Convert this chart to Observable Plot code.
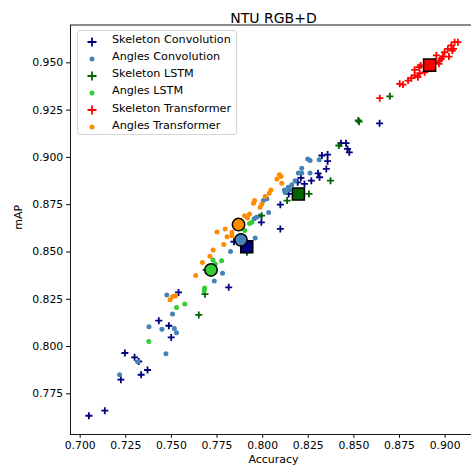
<!DOCTYPE html>
<html><head><meta charset="utf-8">
<script src="https://cdn.jsdelivr.net/npm/d3@7"></script>
<script src="https://cdn.jsdelivr.net/npm/@observablehq/plot@0.6"></script>
<style>
html,body{margin:0;padding:0;background:#fff;overflow:hidden;}
#wrap{position:relative;width:471px;height:470px;overflow:hidden;font-family:"DejaVu Sans",sans-serif;}
#legend{position:absolute;left:77px;top:30px;width:160px;height:105px;box-sizing:border-box;border:1px solid #d5d5d5;border-radius:3px;background:rgba(255,255,255,0.85);}
.lrow{position:absolute;left:0;height:17px;width:158px;}
.lrow svg{position:absolute;left:8px;top:3px;}
.lrow span{position:absolute;left:34px;top:0.5px;font-size:11.2px;line-height:14px;color:#000;white-space:nowrap;}
</style>
</head><body><div id="wrap"><div id="chart"></div><div id="legend"></div></div>
<script>
const seriesNames = ["Skeleton Convolution","Angles Convolution","Skeleton LSTM","Angles LSTM","Skeleton Transformer","Angles Transformer"];
const seriesColors = ["#000080","#4682b4","#006400","#32cd32","#ff0000","#ff8c00"];
const seriesKind = ["plus","dot","plus","dot","plus","dot"];

const skelConvAcc = [0.7048,0.7135,0.7223,0.7245,0.7298,0.7321,0.7334,0.7369,0.7431,0.7486,0.7499,0.7539,0.7691,0.7814,0.7843,0.7993,0.8097,0.8097,0.8143,0.8192,0.8210,0.8229,0.8267,0.8304,0.8312,0.8349,0.8325,0.8356,0.8356,0.8429,0.8457,0.8465,0.8475,0.8641];
const skelConvMap = [0.7634,0.7661,0.7825,0.7966,0.7943,0.7921,0.7851,0.7876,0.8137,0.8110,0.8048,0.8286,0.8405,0.8313,0.8554,0.8657,0.8622,0.8750,0.8807,0.8868,0.8892,0.8860,0.8877,0.8916,0.8895,0.8939,0.9010,0.9015,0.8980,0.9075,0.9075,0.9045,0.9027,0.9180];

const angConvAcc = [0.7216,0.7316,0.7377,0.7448,0.7470,0.7475,0.7506,0.7516,0.7528,0.7735,0.7780,0.7824,0.7959,0.7954,0.7967,0.7986,0.8004,0.8023,0.8033,0.8119,0.8123,0.8146,0.8141,0.8160,0.8178,0.8196,0.8214,0.8214,0.8260,0.8247,0.8260,0.8310];
const angConvMap = [0.7851,0.7920,0.8105,0.8091,0.7962,0.8273,0.8172,0.8096,0.8073,0.8346,0.8388,0.8503,0.8574,0.8675,0.8683,0.8692,0.8772,0.8781,0.8709,0.8828,0.8815,0.8828,0.8842,0.8855,0.8877,0.8918,0.8918,0.8942,0.8918,0.8992,0.8983,0.8988];

const skelLstmAcc = [0.7650,0.7684,0.7914,0.7995,0.8134,0.8254,0.8372,0.8418,0.8524,0.8529,0.8697];
const skelLstmMap = [0.8167,0.8277,0.8498,0.8692,0.8772,0.8807,0.8877,0.9063,0.9195,0.9189,0.9323];

const angLstmAcc = [0.7376,0.7528,0.7573,0.7682,0.7680,0.7728,0.7740,0.7775,0.7902,0.7928,0.7941];
const angLstmMap = [0.8027,0.8207,0.8225,0.8309,0.8295,0.8458,0.8437,0.8453,0.8613,0.8651,0.8657];

const skelTrAcc = [0.8642,0.8751,0.8769,0.8797,0.8815,0.8833,0.8851,0.8833,0.8861,0.8857,0.8888,0.8897,0.8943,0.8952,0.8970,0.8988,0.8997,0.9015,0.9021,0.9034,0.9052,0.9070,0.9046,0.8966,0.8979,0.8866,0.8926,0.9039];
const skelTrMap = [0.9313,0.9389,0.9385,0.9406,0.9419,0.9433,0.9424,0.9463,0.9445,0.9477,0.9450,0.9491,0.9503,0.9539,0.9512,0.9533,0.9556,0.9574,0.9533,0.9592,0.9609,0.9609,0.9574,0.9495,0.9521,0.9486,0.9475,0.9565];

const angTrAcc = [0.7493,0.7507,0.7522,0.7633,0.7670,0.7711,0.7729,0.7787,0.7805,0.7832,0.7750,0.7795,0.7832,0.7844,0.7877,0.7901,0.7917,0.7928,0.7950,0.7956,0.7986,0.7996,0.8014,0.8036,0.8045,0.8078,0.8092,0.8101,0.8105];
const angTrMap = [0.8248,0.8264,0.8267,0.8375,0.8444,0.8477,0.8511,0.8539,0.8581,0.8586,0.8605,0.8622,0.8604,0.8648,0.8666,0.8692,0.8680,0.8701,0.8757,0.8772,0.8737,0.8754,0.8793,0.8810,0.8828,0.8886,0.8908,0.8899,0.8863];

const meanAcc = [0.7913,0.7881,0.8196,0.7717,0.8915,0.7868];
const meanMap = [0.8528,0.8564,0.8806,0.8405,0.9488,0.8645];

const xTicks = [0.700,0.725,0.750,0.775,0.800,0.825,0.850,0.875,0.900];
const yTicks = [0.775,0.800,0.825,0.850,0.875,0.900,0.925,0.950];

const accLists = [skelConvAcc,angConvAcc,skelLstmAcc,angLstmAcc,skelTrAcc,angTrAcc];
const mapLists = [skelConvMap,angConvMap,skelLstmMap,angLstmMap,skelTrMap,angTrMap];

const plusSymbol = {draw(ctx, size){const r = Math.sqrt(size/Math.PI); ctx.moveTo(-r,0); ctx.lineTo(r,0); ctx.moveTo(0,-r); ctx.lineTo(0,r);}};

const seriesMarks = seriesNames.map((name,i) => {
  const rows = accLists[i].map((a,j) => ({series:name, acc:a, map:mapLists[i][j]}));
  return seriesKind[i] === "plus"
    ? Plot.dot(rows, {x:"acc", y:"map", symbol: plusSymbol, r:3.5, stroke:"series", fill:"none", strokeWidth:1.8})
    : Plot.dot(rows, {x:"acc", y:"map", r:2.5, fill:"series", stroke:"none"});
});

const meanRows = seriesNames.map((name,i) => ({series:name, acc:meanAcc[i], map:meanMap[i], kind:seriesKind[i]}));

const chart = Plot.plot({
  width:471, height:470,
  marginLeft:70, marginRight:-5, marginTop:24.5, marginBottom:36,
  style:{fontFamily:'"DejaVu Sans", sans-serif', fontSize:"10.8px", background:"white", color:"black", overflow:"hidden"},
  x:{domain:[0.6947,0.9172], axis:null},
  y:{domain:[0.7535,0.9700], axis:null},
  color:{domain:seriesNames, range:seriesColors},
  marks:[
    ...seriesMarks,
    ...meanRows.map(d => Plot.dot([d], {x:"acc", y:"map", symbol: d.kind==="plus" ? "square" : "circle", r: d.kind==="plus" ? 6.8 : 6.2, fill:"series", stroke:"black", strokeWidth:1.5})),
    Plot.frame({stroke:"black", strokeWidth:0.9}),
    Plot.axisX({ticks:xTicks, tickFormat:d3.format(".3f"), tickSize:3.8, tickPadding:3, fontSize:10.8, label:null}),
    Plot.axisY({ticks:yTicks, tickFormat:d3.format(".3f"), tickSize:3.8, tickPadding:3.5, fontSize:10.8, label:null}),
    Plot.text(["Accuracy"], {frameAnchor:"bottom", dy:28, fontSize:11}),
    Plot.text(["mAP"], {frameAnchor:"left", dx:-52, rotate:-90, fontSize:11}),
    Plot.text(["NTU RGB+D"], {frameAnchor:"top", dy:-12, fontSize:14})
  ]
});
document.getElementById("chart").appendChild(chart);

const legend = document.getElementById("legend");
seriesNames.forEach((name,i) => {
  const row = document.createElement("div");
  row.className = "lrow";
  row.style.top = (1.5 + 17.15*i) + "px";
  const mk = seriesKind[i] === "plus"
    ? `<svg width="12" height="12"><path d="M1.5,6H10.5M6,1.5V10.5" stroke="${seriesColors[i]}" stroke-width="1.8" fill="none"/></svg>`
    : `<svg width="12" height="12"><circle cx="6" cy="6" r="2.5" fill="${seriesColors[i]}"/></svg>`;
  row.innerHTML = mk + `<span>${name}</span>`;
  legend.appendChild(row);
});
</script>
</body></html>
